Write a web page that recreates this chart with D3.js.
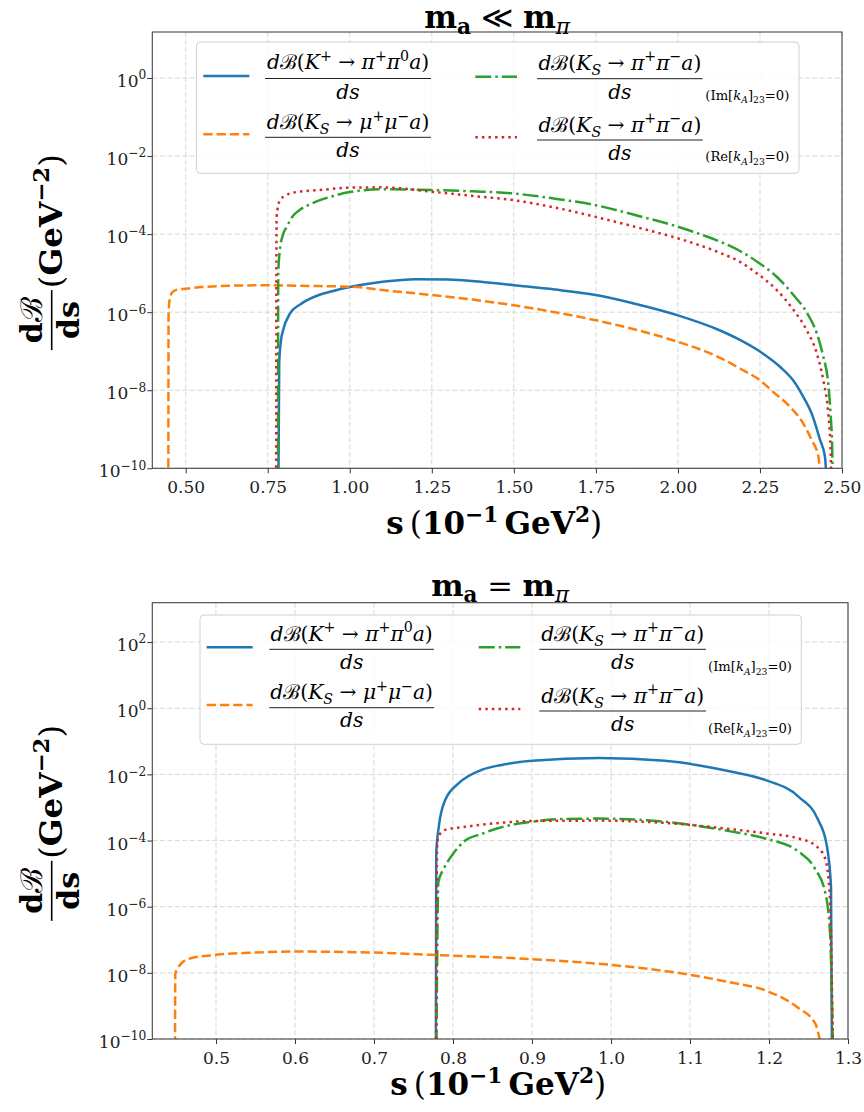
<!DOCTYPE html>
<html>
<head>
<meta charset="utf-8">
<script src="https://cdn.jsdelivr.net/npm/d3@7"></script>
<style>
  html, body { margin: 0; padding: 0; background: #fff; }
  svg { display: block; }
</style>
</head>
<body>
<svg id="chart" width="864" height="1112"></svg>
<script>
// ---------------- data ----------------
// s in units of 10^-1 GeV^2, values are dB/ds in GeV^-2

// tick values and labels
const topXTicks = [0.50, 0.75, 1.00, 1.25, 1.50, 1.75, 2.00, 2.25, 2.50];
const topXTickLabels = ["0.50", "0.75", "1.00", "1.25", "1.50", "1.75", "2.00", "2.25", "2.50"];
const topYTickExps = [0, -2, -4, -6, -8, -10];
const botXTicks = [0.5, 0.6, 0.7, 0.8, 0.9, 1.0, 1.1, 1.2, 1.3];
const botXTickLabels = ["0.5", "0.6", "0.7", "0.8", "0.9", "1.0", "1.1", "1.2", "1.3"];
const botYTickExps = [2, 0, -2, -4, -6, -8, -10];

// m_a << m_pi
const topKplus = [
  [0.782, 1e-11], [0.785, 5e-8], [0.790, 1.8e-7], [0.797, 3.5e-7], [0.818, 9.3e-7],
  [0.850, 1.6e-6], [0.906, 2.75e-6], [0.950, 3.5e-6], [1.000, 4.4e-6], [1.100, 6.0e-6],
  [1.200, 7.0e-6], [1.300, 6.9e-6], [1.400, 6.0e-6], [1.500, 4.9e-6], [1.625, 3.8e-6],
  [1.750, 2.75e-6], [1.875, 1.6e-6], [2.000, 8.3e-7], [2.125, 3.5e-7], [2.189, 1.95e-7],
  [2.250, 9.8e-8], [2.311, 4.0e-8], [2.351, 1.8e-8], [2.382, 6.8e-9], [2.407, 2.6e-9],
  [2.433, 5.4e-10], [2.448, 2.0e-10], [2.456, 1e-11]
];
const topKsMuMu = [
  [0.4470, 1e-11], [0.4478, 1.0e-6], [0.452, 2.3e-6], [0.460, 3.3e-6], [0.475, 3.8e-6],
  [0.500, 4.0e-6], [0.550, 4.4e-6], [0.650, 4.8e-6], [0.750, 4.9e-6], [0.875, 4.7e-6],
  [1.000, 4.5e-6], [1.125, 3.5e-6], [1.250, 2.75e-6], [1.375, 2.1e-6], [1.500, 1.5e-6],
  [1.625, 1.0e-6], [1.750, 6.2e-7], [1.875, 3.5e-7], [2.000, 1.74e-7], [2.125, 7.0e-8],
  [2.189, 3.6e-8], [2.250, 1.8e-8], [2.290, 9.1e-9], [2.341, 3.8e-9], [2.382, 1.4e-9],
  [2.407, 5.4e-10], [2.428, 2.0e-10], [2.439, 1e-11]
];
const topKsPiPiIm = [
  [0.7810, 1e-11], [0.782, 9.8e-6], [0.787, 3.9e-5], [0.797, 1.0e-4], [0.808, 1.55e-4],
  [0.825, 2.8e-4], [0.848, 4.2e-4], [0.875, 5.6e-4], [0.909, 7.4e-4], [0.950, 9.5e-4],
  [1.000, 1.2e-3], [1.100, 1.41e-3], [1.250, 1.35e-3], [1.375, 1.25e-3], [1.500, 1.1e-3],
  [1.625, 8.1e-4], [1.750, 5.5e-4], [1.875, 3.0e-4], [2.000, 1.55e-4], [2.060, 1.05e-4],
  [2.125, 6.6e-5], [2.189, 3.7e-5], [2.240, 2.0e-5], [2.301, 8.1e-6], [2.352, 2.75e-6],
  [2.392, 1.0e-6], [2.423, 2.9e-7], [2.443, 7.2e-8], [2.458, 1.5e-8], [2.465, 2.6e-9],
  [2.470, 3.5e-10], [2.473, 1e-11]
];
const topKsPiPiRe = [
  [0.7755, 1e-11], [0.777, 2.75e-4], [0.787, 7.4e-4], [0.800, 9.3e-4], [0.818, 1.1e-3],
  [0.860, 1.26e-3], [0.909, 1.35e-3], [1.000, 1.55e-3], [1.100, 1.58e-3], [1.245, 1.23e-3],
  [1.375, 9.5e-4], [1.500, 7.4e-4], [1.625, 4.8e-4], [1.750, 2.75e-4], [1.875, 1.5e-4],
  [2.000, 7.8e-5], [2.060, 5.4e-5], [2.125, 3.4e-5], [2.189, 1.95e-5], [2.240, 1.0e-5],
  [2.301, 3.7e-6], [2.352, 1.15e-6], [2.392, 3.5e-7], [2.423, 8.9e-8], [2.443, 1.8e-8],
  [2.458, 2.6e-9], [2.465, 3.5e-10], [2.469, 1e-11]
];

// m_a = m_pi
const botKplus = [
  [0.7783, 1e-11], [0.7788, 4e-5], [0.7820, 2.6e-4], [0.7903, 1.7e-3], [0.8073, 5.4e-3],
  [0.8367, 1.38e-2], [0.8600, 1.9e-2], [0.9000, 2.57e-2], [0.9845, 3.1e-2], [1.0684, 2.57e-2],
  [1.1100, 1.9e-2], [1.1532, 1.2e-2], [1.1950, 6.8e-3], [1.2376, 2.1e-3], [1.2620, 4.3e-4],
  [1.2730, 7.4e-5], [1.2785, 4e-6], [1.2798, 1e-11]
];
const botKsMuMu = [
  [0.4481, 1e-11], [0.4485, 9.5e-9], [0.4545, 1.74e-8], [0.4670, 2.7e-8], [0.5000, 3.5e-8],
  [0.5500, 4.1e-8], [0.6000, 4.4e-8], [0.7000, 4.1e-8], [0.7735, 3.5e-8], [0.9000, 2.6e-8],
  [1.0000, 1.74e-8], [1.0980, 8.9e-9], [1.1500, 5.2e-9], [1.1980, 2.8e-9], [1.2376, 8.5e-10],
  [1.2583, 3.0e-10], [1.2713, 1e-11]
];
const botKsPiPiIm = [
  [0.7788, 1e-11], [0.7815, 5.6e-6], [0.7883, 1.4e-5], [0.7988, 3.6e-5], [0.8156, 1.0e-4],
  [0.8367, 1.6e-4], [0.8579, 2.4e-4], [0.9000, 3.7e-4], [0.9418, 4.5e-4], [0.9845, 4.6e-4],
  [1.0684, 3.7e-4], [1.1532, 1.86e-4], [1.1950, 1.15e-4], [1.2376, 4.6e-5], [1.2583, 1.4e-5],
  [1.2710, 2.8e-6], [1.2772, 1.7e-7], [1.2815, 1e-11]
];
const botKsPiPiRe = [
  [0.7785, 1e-11], [0.7800, 8e-5], [0.7815, 1.3e-4], [0.7900, 2.1e-4], [0.8156, 2.6e-4],
  [0.8579, 3.4e-4], [0.9000, 3.9e-4], [0.9845, 4.0e-4], [1.0684, 3.4e-4], [1.1532, 2.2e-4],
  [1.1950, 1.66e-4], [1.2376, 1.15e-4], [1.2583, 7.2e-5], [1.2710, 2.9e-5], [1.2772, 1.8e-6],
  [1.2812, 1e-11]
];

// ---------------- styles ----------------
const SERIF = "'DejaVu Serif', serif";
const LW = 2.5;
const seriesStyle = {
  kplus: { color: "#1f77b4", dash: null },
  mumu:  { color: "#ff7f0e", dash: "9.25,4" },
  im:    { color: "#2ca02c", dash: "16,4,2.5,4" },
  re:    { color: "#d62728", dash: "2.5,4.1" }
};

// ---------------- text helpers ----------------
const svg = d3.select("#chart");

// rich text: parts are {t, st:'i'|'b'|'r', pos:'sup'|'sub'}
function rich(g, parts, o) {
  const t = g.append("text")
    .attr("x", o.x).attr("y", o.y)
    .attr("font-family", o.family || SERIF)
    .attr("font-size", o.size)
    .attr("text-anchor", o.anchor || "start")
    .attr("fill", o.fill || "#000")
    .style("white-space", "pre");
  let cur = 0;
  parts.forEach(p => {
    const off = p.pos === "sup" ? -(o.supShift ?? 0.42) * o.size
              : p.pos === "sub" ? (o.subShift ?? 0.22) * o.size : 0;
    const ts = t.append("tspan").text(p.t).attr("dy", off - cur);
    cur = off;
    ts.attr("font-size", p.pos ? o.size * (o.scriptScale ?? 0.7) : o.size);
    if (p.st === "i") ts.attr("font-style", "italic");
    if (p.st === "b") ts.attr("font-weight", "bold");
    if (p.fam) ts.attr("font-family", p.fam);
  });
  return t;
}

// font size that gives a rich text the requested advance width
function fitSize(parts, width, base, o = {}) {
  const t = rich(svg, parts, Object.assign({}, o, { x: 0, y: -100, size: base }));
  const w = t.node().getComputedTextLength();
  t.remove();
  return base * width / w;
}

// ---------------- label contents ----------------
const topTitleParts = [
  { t: "m", st: "b" }, { t: "a", st: "b", pos: "sub" }, { t: " \u226A ", st: "r" },
  { t: "m", st: "b" }, { t: "\u03C0", st: "i", pos: "sub" }
];
const botTitleParts = [
  { t: "m", st: "b" }, { t: "a", st: "b", pos: "sub" }, { t: " = ", st: "r" },
  { t: "m", st: "b" }, { t: "\u03C0", st: "i", pos: "sub" }
];
const xLabelParts = [
  { t: "s", st: "b" }, { t: "\u2009", st: "r" }, { t: "(", st: "r" }, { t: "10", st: "b" },
  { t: "\u22121", st: "b", pos: "sup" }, { t: "\u2009", st: "r" }, { t: "GeV", st: "b" },
  { t: "2", st: "b", pos: "sup" }, { t: ")", st: "r" }
];
const yNumParts = [{ t: "d", st: "b" }, { t: "\u212C", st: "r" }];
const yDenParts = [{ t: "ds", st: "b" }];
const yUnitParts = [
  { t: "(", st: "r" }, { t: "GeV", st: "b" }, { t: "\u22122", st: "b", pos: "sup" }, { t: ")", st: "r" }
];

const legKplusNum = [
  { t: "d", st: "i" }, { t: "\u212C", st: "r" }, { t: "(", st: "r" }, { t: "K", st: "i" },
  { t: "+", st: "r", pos: "sup" }, { t: " \u2192 ", st: "r" }, { t: "\u03C0", st: "i" },
  { t: "+", st: "r", pos: "sup" }, { t: "\u03C0", st: "i" }, { t: "0", st: "r", pos: "sup" },
  { t: "a", st: "i" }, { t: ")", st: "r" }
];
const legMuMuNum = [
  { t: "d", st: "i" }, { t: "\u212C", st: "r" }, { t: "(", st: "r" }, { t: "K", st: "i" },
  { t: "S", st: "i", pos: "sub" }, { t: " \u2192 ", st: "r" }, { t: "\u03BC", st: "i" },
  { t: "+", st: "r", pos: "sup" }, { t: "\u03BC", st: "i" }, { t: "\u2212", st: "r", pos: "sup" },
  { t: "a", st: "i" }, { t: ")", st: "r" }
];
const legPiPiNum = [
  { t: "d", st: "i" }, { t: "\u212C", st: "r" }, { t: "(", st: "r" }, { t: "K", st: "i" },
  { t: "S", st: "i", pos: "sub" }, { t: " \u2192 ", st: "r" }, { t: "\u03C0", st: "i" },
  { t: "+", st: "r", pos: "sup" }, { t: "\u03C0", st: "i" }, { t: "\u2212", st: "r", pos: "sup" },
  { t: "a", st: "i" }, { t: ")", st: "r" }
];
const legDen = [{ t: "ds", st: "i" }];
const legImSub = [
  { t: "(Im[", st: "r" }, { t: "k", st: "i" }, { t: "A", st: "i", pos: "sub" },
  { t: "]", st: "r" }, { t: "23", st: "r", pos: "sub" }, { t: "=0)", st: "r" }
];
const legReSub = [
  { t: "(Re[", st: "r" }, { t: "k", st: "i" }, { t: "A", st: "i", pos: "sub" },
  { t: "]", st: "r" }, { t: "23", st: "r", pos: "sub" }, { t: "=0)", st: "r" }
];

// ---------------- panel layout ----------------
const panels = [
  {
    id: "top", left: 152.3, right: 842, top: 32, bottom: 468.3,
    xDomain: [0.3982, 2.5], yDomain: [1e-10, Math.pow(10, 1.179)],
    xTicks: topXTicks, xTickLabels: topXTickLabels, yExps: topYTickExps,
    series: [
      { key: "kplus", data: topKplus }, { key: "mumu", data: topKsMuMu },
      { key: "im", data: topKsPiPiIm }, { key: "re", data: topKsPiPiRe }
    ],
    title: topTitleParts, titleW: 146, titleBase: 28,
    xlabBase: 534, xlabShift: -3,
    legend: {
      box: { x: 196.5, y: 42, w: 602.5, h: 131.3 },
      rows: [
        { key: "kplus", num: legKplusNum, hx: [203.3, 249.3], hy: 76, bx: [265, 431], by: 78.5, nb: 69.3, db: 99.3 },
        { key: "mumu", num: legMuMuNum, hx: [203.3, 249.3], hy: 134.3, bx: [265, 431], by: 137.3, nb: 129.3, db: 156.7 },
        { key: "im", num: legPiPiNum, hx: [475.3, 517], hy: 76.7, bx: [537, 702.7], by: 78.7, nb: 70, db: 98.5, sub: legImSub, sx: 705.3, sb: 99.5 },
        { key: "re", num: legPiPiNum, hx: [475.3, 517], hy: 137.3, bx: [537, 702.7], by: 140, nb: 131.5, db: 160, sub: legReSub, sx: 705.3, sb: 161 }
      ]
    }
  },
  {
    id: "bot", left: 152.3, right: 848, top: 602.7, bottom: 1039,
    xDomain: [0.4194, 1.3], yDomain: [1e-10, Math.pow(10, 3.19)],
    xTicks: botXTicks, xTickLabels: botXTickLabels, yExps: botYTickExps,
    series: [
      { key: "kplus", data: botKplus }, { key: "mumu", data: botKsMuMu },
      { key: "im", data: botKsPiPiIm }, { key: "re", data: botKsPiPiRe }
    ],
    title: botTitleParts, titleW: 138, titleBase: 595.5,
    xlabBase: 1095, xlabShift: -2,
    legend: {
      box: { x: 200, y: 615, w: 601.3, h: 129.3 },
      rows: [
        { key: "kplus", num: legKplusNum, hx: [206.7, 252.7], hy: 647.3, bx: [269.3, 434], by: 649.3, nb: 641, db: 669.3 },
        { key: "mumu", num: legMuMuNum, hx: [206.7, 252.7], hy: 705, bx: [269.3, 434], by: 707.7, nb: 699.3, db: 726.7 },
        { key: "im", num: legPiPiNum, hx: [478.7, 520.3], hy: 647.3, bx: [539.3, 706], by: 649.3, nb: 641, db: 669.3, sub: legImSub, sx: 708, sb: 671 },
        { key: "re", num: legPiPiNum, hx: [478.7, 520.3], hy: 709, bx: [539.3, 706], by: 711, nb: 702.7, db: 730.7, sub: legReSub, sx: 708, sb: 733 }
      ]
    }
  }
];

// shared font sizes
const TICK_SIZE = 17;
const legSize = fitSize(legKplusNum, 162, 17);
const subSize = fitSize(legImSub, 84, 12);
const xlabSize = fitSize(xLabelParts, 216, 32);
const unitSize = fitSize(yUnitParts, 134, 32);

function drawPanel(P) {
  const x = d3.scaleLinear().domain(P.xDomain).range([P.left, P.right]);
  const y = d3.scaleLog().domain(P.yDomain).range([P.bottom, P.top]);
  const g = svg.append("g").attr("class", "panel-" + P.id);
  const yTicks = P.yExps.map(e => Math.pow(10, e));

  // grid
  const grid = g.append("g").attr("stroke", "#d2d2d2").attr("stroke-width", 0.9)
    .attr("stroke-dasharray", "5,2.5");
  grid.selectAll("line.gx").data(P.xTicks).join("line")
    .attr("x1", d => x(d)).attr("x2", d => x(d)).attr("y1", P.top).attr("y2", P.bottom);
  grid.selectAll("line.gy").data(yTicks).join("line")
    .attr("x1", P.left).attr("x2", P.right).attr("y1", d => y(d)).attr("y2", d => y(d));

  // curves
  const clipId = "clip-" + P.id;
  g.append("clipPath").attr("id", clipId).append("rect")
    .attr("x", P.left).attr("y", P.top).attr("width", P.right - P.left).attr("height", P.bottom - P.top);
  const line = d3.line().x(d => x(d[0])).y(d => y(d[1])).curve(d3.curveMonotoneX);
  const curves = g.append("g").attr("clip-path", `url(#${clipId})`);
  P.series.forEach(s => {
    const st = seriesStyle[s.key];
    curves.append("path").datum(s.data).attr("d", line)
      .attr("fill", "none").attr("stroke", st.color).attr("stroke-width", LW)
      .attr("stroke-dasharray", st.dash).attr("stroke-linejoin", "round");
  });

  // axes
  const xAxis = d3.axisBottom(x).tickValues(P.xTicks).tickFormat((d, i) => P.xTickLabels[i])
    .tickSize(5).tickSizeOuter(0).tickPadding(8);
  const gx = g.append("g").attr("transform", `translate(0,${P.bottom})`).call(xAxis);
  gx.select(".domain").remove();
  gx.selectAll("line").attr("stroke", "#333");
  gx.selectAll("text").attr("font-family", SERIF).attr("font-size", TICK_SIZE).attr("fill", "#222");

  const yAxis = d3.axisLeft(y).tickValues(yTicks).tickFormat(() => "").tickSize(5).tickSizeOuter(0);
  const gy = g.append("g").attr("transform", `translate(${P.left},0)`).call(yAxis);
  gy.select(".domain").remove();
  gy.selectAll("line").attr("stroke", "#333");
  gy.selectAll(".tick").each(function (d) {
    const e = Math.round(Math.log10(d));
    const lab = e < 0 ? "\u2212" + (-e) : String(e);
    rich(d3.select(this), [{ t: "10", st: "r" }, { t: lab, st: "r", pos: "sup" }],
      { x: -6, y: 8.5, size: TICK_SIZE, anchor: "end", fill: "#222", supShift: 0.45, scriptScale: 0.72 });
  });

  // frame
  g.append("rect").attr("x", P.left).attr("y", P.top)
    .attr("width", P.right - P.left).attr("height", P.bottom - P.top)
    .attr("fill", "none").attr("stroke", "#444").attr("stroke-width", 1.1);

  // title
  const cx = (P.left + P.right) / 2;
  const tSize = fitSize(P.title, P.titleW, 30);
  rich(g, P.title, { x: cx, y: P.titleBase, size: tSize, anchor: "middle", subShift: 0.2 });

  // x label
  rich(g, xLabelParts, { x: cx + P.xlabShift, y: P.xlabBase, size: xlabSize, anchor: "middle", supShift: 0.4 });

  // y label (rotated): fraction dB/ds followed by (GeV^-2)
  const cy = (P.top + P.bottom) / 2;
  const yl = g.append("g").attr("transform", `translate(0,${cy}) rotate(-90)`);
  const fx = -70, fw = 60;
  rich(yl, yNumParts, { x: fx, y: 42, size: 30, anchor: "middle" });
  yl.append("line").attr("x1", fx - fw / 2).attr("x2", fx + fw / 2)
    .attr("y1", 51.7).attr("y2", 51.7).attr("stroke", "#000").attr("stroke-width", 1.6);
  rich(yl, yDenParts, { x: fx, y: 79, size: 30, anchor: "middle" });
  rich(yl, yUnitParts, { x: fx + fw / 2 + 2, y: 62, size: unitSize, anchor: "start", supShift: 0.4 });

  // legend
  const L = P.legend;
  const lg = g.append("g");
  lg.append("rect").attr("x", L.box.x).attr("y", L.box.y).attr("width", L.box.w).attr("height", L.box.h)
    .attr("rx", 4).attr("fill", "#fff").attr("fill-opacity", 0.8)
    .attr("stroke", "#d0d0d0").attr("stroke-width", 1);
  L.rows.forEach(r => {
    const st = seriesStyle[r.key];
    lg.append("line").attr("x1", r.hx[0]).attr("x2", r.hx[1]).attr("y1", r.hy).attr("y2", r.hy)
      .attr("stroke", st.color).attr("stroke-width", LW).attr("stroke-dasharray", st.dash);
    const mx = (r.bx[0] + r.bx[1]) / 2;
    rich(lg, r.num, { x: mx, y: r.nb, size: legSize, anchor: "middle", subShift: 0.25 });
    lg.append("line").attr("x1", r.bx[0]).attr("x2", r.bx[1]).attr("y1", r.by).attr("y2", r.by)
      .attr("stroke", "#222").attr("stroke-width", 1);
    rich(lg, legDen, { x: mx, y: r.db, size: legSize, anchor: "middle" });
    if (r.sub) {
      rich(lg, r.sub, { x: r.sx, y: r.sb, size: subSize, anchor: "start", subShift: 0.3 });
    }
  });
}

panels.forEach(drawPanel);
</script>
</body>
</html>
